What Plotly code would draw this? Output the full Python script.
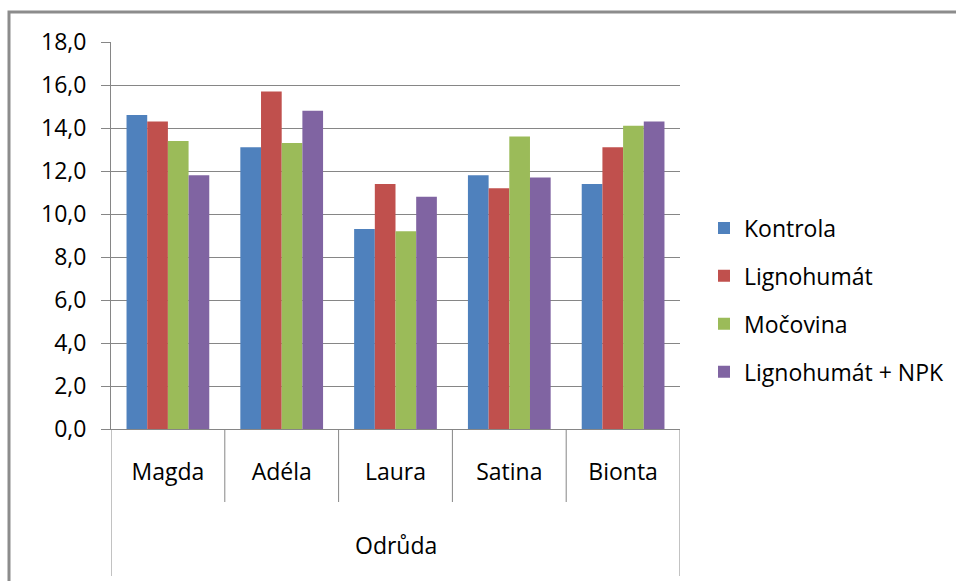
import plotly.graph_objects as go

# Varieties (inner category level) and the outer grouping label
varieties = ["Magda", "Adéla", "Laura", "Satina", "Bionta"]
group_label = "Odrůda"

# Treatment series
series_names = ["Kontrola", "Lignohumát", "Močovina", "Lignohumát + NPK"]
kontrola = [14.6, 13.1, 9.3, 11.8, 11.4]
lignohumat = [14.3, 15.7, 11.4, 11.2, 13.1]
mocovina = [13.4, 13.3, 9.2, 13.6, 14.1]
lignohumat_npk = [11.8, 14.8, 10.8, 11.7, 14.3]

y_ticks = [0, 2, 4, 6, 8, 10, 12, 14, 16, 18]

colors = ["#4F81BD", "#C0504D", "#9BBB59", "#8064A2"]
values = [kontrola, lignohumat, mocovina, lignohumat_npk]

FONT = "Open Sans"
FS = 23
GRID = "#868686"

fig = go.Figure()
for name, vals, col in zip(series_names, values, colors):
    fig.add_trace(go.Bar(
        x=varieties, y=vals, name=name, marker_color=col,
        marker_line_width=0, legendgroup=name,
    ))

# Plot area: 111..680 px horizontally, 42..429 px vertically
L, R, T, B = 111, 680, 42, 429
W, H = 956, 581
plot_h = B - T

def py(px):
    """pixel row -> paper y"""
    return (B - px) / plot_h

def px_x(px):
    """pixel column -> paper x"""
    return (px - L) / (R - L)

shapes = []
# separators between varieties
for i in range(1, len(varieties)):
    shapes.append(dict(type="line", xref="x", yref="paper",
                       x0=i - 0.5, x1=i - 0.5, y0=0, y1=py(502),
                       line=dict(color=GRID, width=1)))
# outer boundaries of the grouping level
for xv in (-0.5, len(varieties) - 0.5):
    shapes.append(dict(type="line", xref="x", yref="paper",
                       x0=xv, x1=xv, y0=0, y1=py(576),
                       line=dict(color=GRID, width=1)))
# chart frame
shapes.append(dict(type="rect", xref="paper", yref="paper",
                   x0=px_x(9), x1=px_x(1100), y0=py(700), y1=py(12),
                   line=dict(color="#8C8C8C", width=3), fillcolor="rgba(0,0,0,0)"))

fig.update_layout(
    width=W, height=H,
    margin=dict(l=L, r=W - R, t=T, b=H - B, pad=0, autoexpand=False),
    paper_bgcolor="white", plot_bgcolor="white",
    font=dict(family=FONT, size=FS, color="#000000"),
    separators=",.",
    barmode="group", bargap=0.273, bargroupgap=0,
    showlegend=True,
    legend=dict(x=px_x(704), xanchor="left", y=py(300), yanchor="middle",
                font=dict(family=FONT, size=FS, color="#000000"),
                traceorder="grouped", tracegroupgap=15,
                bgcolor="rgba(0,0,0,0)"),
    shapes=shapes,
    annotations=[dict(text=group_label, xref="x", yref="paper", x=2, y=py(545),
                      showarrow=False, xanchor="center", yanchor="middle",
                      font=dict(family=FONT, size=FS, color="#000000"))],
)

fig.update_xaxes(
    type="category", range=[-0.5, len(varieties) - 0.5],
    showline=True, linecolor=GRID, linewidth=1,
    ticks="", showgrid=False, ticklabelstandoff=22,
    tickfont=dict(family=FONT, size=FS, color="#000000"),
)
fig.update_yaxes(
    range=[0, 18], tickvals=y_ticks, tickformat=".1f",
    showline=True, linecolor=GRID, linewidth=1,
    ticks="outside", ticklen=9, tickcolor=GRID, tickwidth=1,
    showgrid=True, gridcolor=GRID, gridwidth=1, zeroline=False,
    ticklabelstandoff=10,
    tickfont=dict(family=FONT, size=FS, color="#000000"),
)

fig.write_html("out.html")
